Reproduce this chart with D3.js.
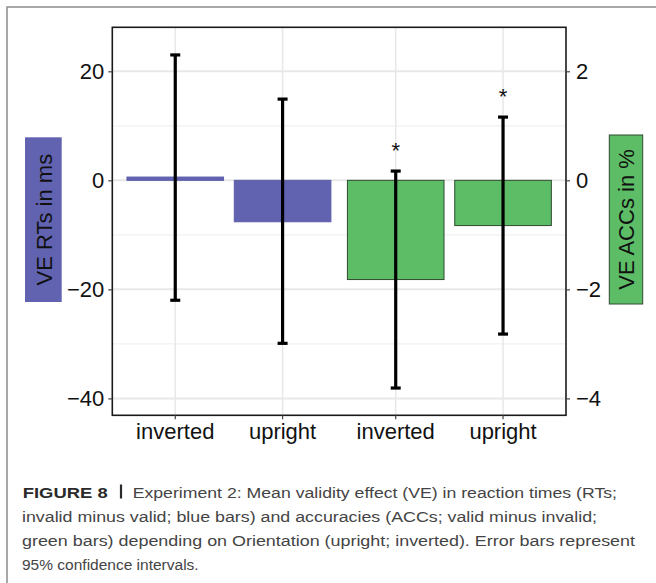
<!DOCTYPE html>
<html><head><meta charset="utf-8">
<script src="https://cdn.jsdelivr.net/npm/d3@7"></script>
<style>html,body{margin:0;padding:0;background:#fff;} svg{display:block;}</style>
</head><body>
<script>
// ---- data ----
const groups = ["RT", "ACC"];
const orientations = ["inverted", "upright"];
const rtMeans = [0.6, -7.6];
const rtLow = [-22.0, -29.9];
const rtHigh = [23.0, 14.9];
const accMeans = [-1.82, -0.83];
const accLow = [-3.81, -2.82];
const accHigh = [0.17, 1.16];
const accSignificant = [true, true];
const leftTicks = [-40, -20, 0, 20];
const leftMinor = [-30, -10, 10];
const rightTicks = [-4, -2, 0, 2];
const leftTitle = "VE RTs in ms";
const rightTitle = "VE ACCs in %";
const captionLabel = "FIGURE 8";
const captionLines = [
  "Experiment 2: Mean validity effect (VE) in reaction times (RTs;",
  "invalid minus valid; blue bars) and accuracies (ACCs; valid minus invalid;",
  "green bars) depending on Orientation (upright; inverted). Error bars represent",
  "95% confidence intervals."
];

const W = 656, H = 583;
const svg = d3.select("body").append("svg").attr("width", W).attr("height", H);
const font = "'Liberation Sans', Arial, sans-serif";

// outer frame
svg.append("rect").attr("x", 7).attr("y", 7).attr("width", 720).attr("height", 720)
  .attr("fill", "none").attr("stroke", "#8c8c8c").attr("stroke-width", 1.5);

const P = {left: 112.3, right: 566, top: 27.3, bottom: 415.3};
const yL = d3.scaleLinear().domain([-43.1, 28.07]).range([P.bottom, P.top]);
const yR = d3.scaleLinear().domain([-4.31, 2.807]).range([P.bottom, P.top]);

const xOuter = d3.scaleBand().domain(groups).range([P.left, P.right]).paddingInner(0).paddingOuter(0.029);
const xInner = d3.scaleBand().domain(orientations).range([0, xOuter.bandwidth()]).paddingInner(0.1).paddingOuter(0.077);
const cx = (g, o) => xOuter(g) + xInner(o) + xInner.bandwidth() / 2;

// grid
const grid = svg.append("g");
leftMinor.forEach(v => grid.append("line").attr("x1", P.left).attr("x2", P.right)
  .attr("y1", yL(v)).attr("y2", yL(v)).attr("stroke", "#f1f1f1").attr("stroke-width", 1.2));
leftTicks.forEach(v => grid.append("line").attr("x1", P.left).attr("x2", P.right)
  .attr("y1", yL(v)).attr("y2", yL(v)).attr("stroke", "#e8e8e8").attr("stroke-width", 2));
groups.forEach(g => orientations.forEach(o => grid.append("line")
  .attr("x1", cx(g, o)).attr("x2", cx(g, o)).attr("y1", P.top).attr("y2", P.bottom)
  .attr("stroke", "#e8e8e8").attr("stroke-width", 1.5)));

// bars
const rows = [];
orientations.forEach((o, i) => rows.push({g: "RT", o, m: rtMeans[i], lo: rtLow[i], hi: rtHigh[i], y: yL, fill: "#6163b1", stroke: "#5a5ca8", sig: false}));
orientations.forEach((o, i) => rows.push({g: "ACC", o, m: accMeans[i], lo: accLow[i], hi: accHigh[i], y: yR, fill: "#5dbd66", stroke: "#2f4a31", sig: accSignificant[i]}));

rows.forEach(d => {
  const y0 = d.y(0), y1 = d.y(d.m);
  svg.append("rect")
    .attr("x", xOuter(d.g) + xInner(d.o))
    .attr("width", xInner.bandwidth())
    .attr("y", Math.min(y0, y1))
    .attr("height", Math.abs(y1 - y0))
    .attr("fill", d.fill).attr("stroke", d.stroke).attr("stroke-width", 1);
});

// error bars
rows.forEach(d => {
  const x = cx(d.g, d.o), capW = 5;
  const g = svg.append("g").attr("stroke", "#000").attr("stroke-width", 3.2);
  g.append("line").attr("x1", x).attr("x2", x).attr("y1", d.y(d.hi)).attr("y2", d.y(d.lo));
  g.append("line").attr("x1", x - capW).attr("x2", x + capW).attr("y1", d.y(d.hi)).attr("y2", d.y(d.hi));
  g.append("line").attr("x1", x - capW).attr("x2", x + capW).attr("y1", d.y(d.lo)).attr("y2", d.y(d.lo));
  if (d.sig) {
    svg.append("text").attr("x", x).attr("y", d.y(d.hi) - 13)
      .attr("text-anchor", "middle").attr("font-family", font).attr("font-size", 22)
      .attr("fill", "#111").text("*");
  }
});

// panel border
svg.append("rect").attr("x", P.left).attr("y", P.top).attr("width", P.right - P.left).attr("height", P.bottom - P.top)
  .attr("fill", "none").attr("stroke", "#1a1a1a").attr("stroke-width", 1.6);

// axes
const axL = d3.axisLeft(yL).tickValues(leftTicks).tickSize(4).tickPadding(4).tickFormat(d => d < 0 ? "\u2212" + Math.abs(d) : d);
const axR = d3.axisRight(yR).tickValues(rightTicks).tickSize(4).tickPadding(6).tickFormat(d => d < 0 ? "\u2212" + Math.abs(d) : d);
const gl = svg.append("g").attr("transform", `translate(${P.left},0)`).call(axL);
const gr = svg.append("g").attr("transform", `translate(${P.right},0)`).call(axR);
[gl, gr].forEach(g => {
  g.select(".domain").remove();
  g.selectAll(".tick line").attr("stroke", "#444").attr("stroke-width", 1.2);
  g.selectAll(".tick text").attr("font-family", font).attr("font-size", 22).attr("fill", "#111");
});

// x labels
const gx = svg.append("g");
rows.forEach(d => {
  const x = cx(d.g, d.o);
  gx.append("line").attr("x1", x).attr("x2", x).attr("y1", P.bottom).attr("y2", P.bottom + 4).attr("stroke", "#444").attr("stroke-width", 1.2);
  gx.append("text").attr("x", x).attr("y", P.bottom + 24).attr("text-anchor", "middle")
    .attr("font-family", font).attr("font-size", 22).attr("fill", "#111").text(d.o);
});

// axis title boxes
svg.append("rect").attr("x", 25).attr("y", 137.3).attr("width", 36.7).attr("height", 164.7).attr("fill", "#6163b1");
svg.append("text").attr("transform", `translate(52,${(137.3 + 302) / 2}) rotate(-90)`)
  .attr("text-anchor", "middle").attr("font-family", font).attr("font-size", 22).attr("fill", "#111").text(leftTitle);
svg.append("rect").attr("x", 609.3).attr("y", 135).attr("width", 33.4).attr("height", 169).attr("fill", "#5dbd66")
  .attr("stroke", "#2f4a31").attr("stroke-width", 1);
svg.append("text").attr("transform", `translate(634,${(135 + 304) / 2}) rotate(-90)`)
  .attr("text-anchor", "middle").attr("font-family", font).attr("font-size", 22).attr("fill", "#111").text(rightTitle);

// caption
const base0 = 497.5, lh = 24.3;
svg.append("text").attr("x", 22.7).attr("y", base0).attr("font-family", font).attr("font-size", 15.5)
  .attr("font-weight", "bold").attr("fill", "#2a2a2a").attr("textLength", 85).attr("lengthAdjust", "spacingAndGlyphs")
  .text(captionLabel);
svg.append("line").attr("x1", 121).attr("x2", 121).attr("y1", base0 - 13).attr("y2", base0 + 1)
  .attr("stroke", "#2a2a2a").attr("stroke-width", 2.2);
const capStart = [132.7, 22, 22, 22];
const capEnd = [617, 597, 635, null];
captionLines.forEach((line, i) => {
  const t = svg.append("text").attr("x", capStart[i]).attr("y", base0 + i * lh)
    .attr("font-family", font).attr("font-size", 15.5).attr("fill", "#444").text(line);
  if (capEnd[i]) t.attr("textLength", capEnd[i] - capStart[i]).attr("lengthAdjust", "spacingAndGlyphs");
});
</script>
</body></html>
